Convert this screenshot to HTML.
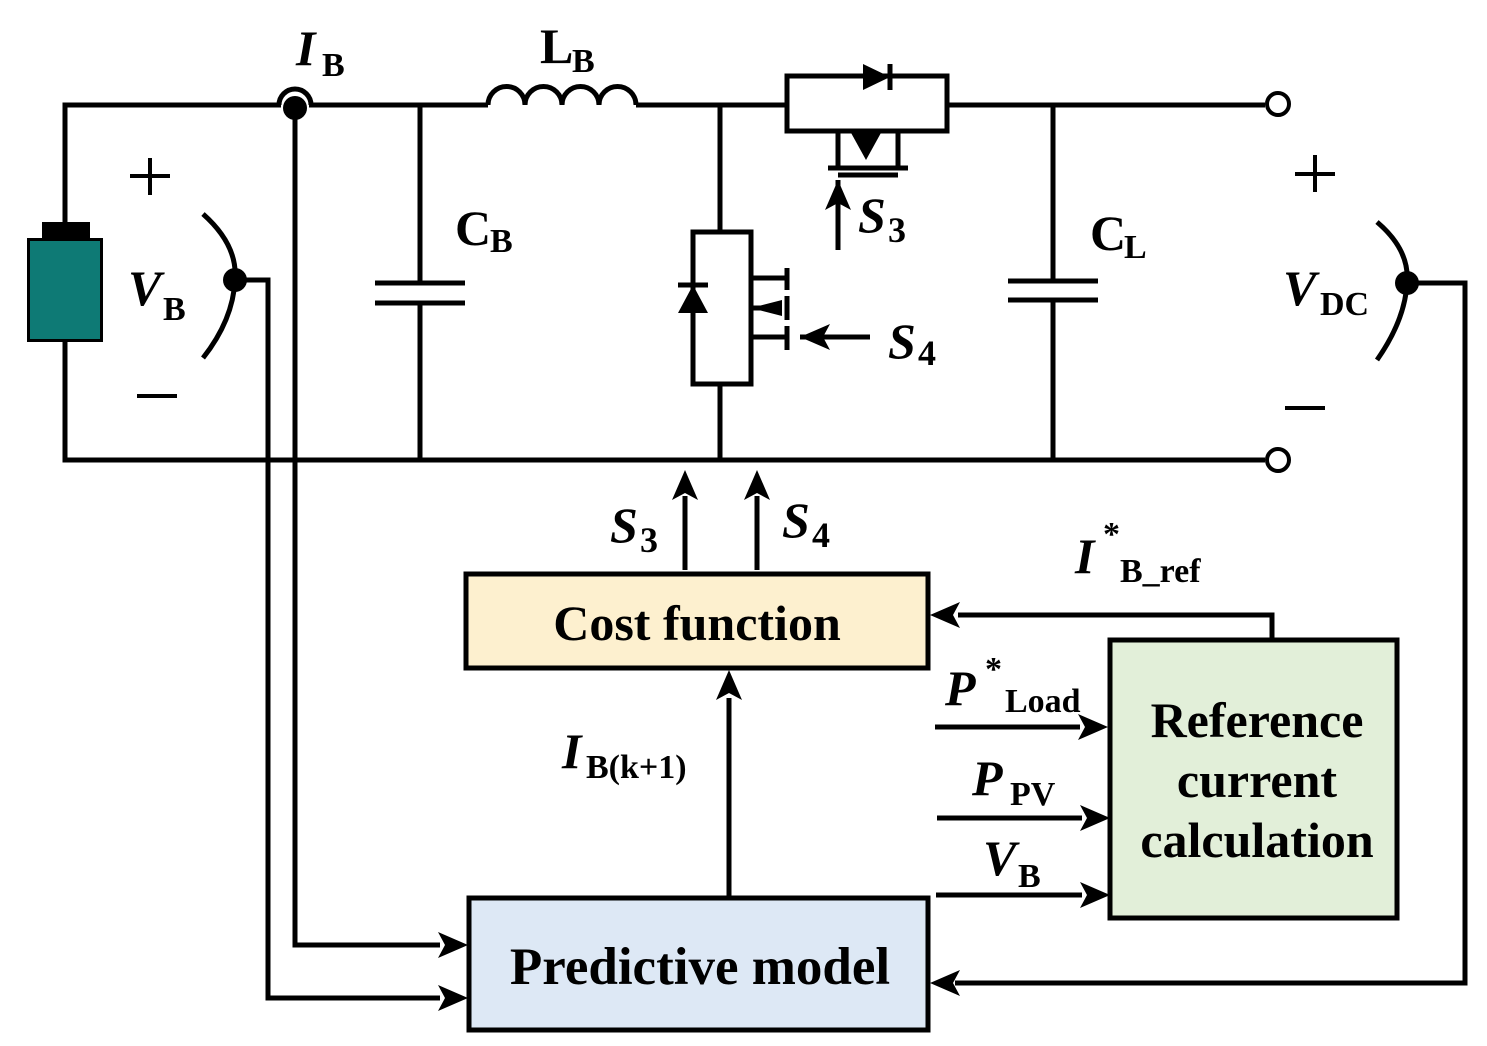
<!DOCTYPE html>
<html><head><style>html,body{margin:0;padding:0;background:#fff}svg{display:block}</style></head>
<body>
<svg width="1487" height="1046" viewBox="0 0 1487 1046" xmlns="http://www.w3.org/2000/svg" font-family="Liberation Serif, serif" font-weight="bold">
<defs>
<marker id="b" markerWidth="30" markerHeight="26" refX="30" refY="13" orient="auto" markerUnits="userSpaceOnUse"><path d="M0,0 L30,13 L0,26 L7,13 z" fill="#000"/></marker></defs>
<g stroke="#000" stroke-width="5" fill="none">
<path d="M65,238 V105 H281"/>
<path d="M279,105 A16,16 0 0 1 311,105"/>
<path d="M309,105 H488"/>
<path d="M488,105 a18,18 0 0 1 37,0 a18,18 0 0 1 37,0 a18,18 0 0 1 37,0 a18,18 0 0 1 37,0"/>
<path d="M636,105 H787"/>
<path d="M947,105 H1265"/>
<path d="M65,342 V460 H1265"/>
<path d="M420,105 V283 M375,283 H465 M375,303 H465 M420,303 V460"/>
<path d="M1053,105 V281 M1008,281 H1098 M1008,300 H1098 M1053,300 V460"/>
<path d="M720,105 V232 M720,384 V460"/>
<rect x="693" y="232" width="58" height="152"/>
<path d="M751,278 H787 M751,308 H780 M751,337 H787 M787,268 V290 M787,296 V320 M787,326 V350"/>
<path d="M870,337 H800" marker-end="url(#b)"/>
<path d="M678,285 H708"/>
<rect x="787" y="76" width="160" height="55"/>
<path d="M838,131 V168 M898,131 V168 M828,168 H908 M838,175 H898"/>
<path d="M838,250 V180" marker-end="url(#b)"/>
<path d="M890,64 V90"/>
<path d="M203,214 Q238,245 235,280 Q233,320 203,358"/>
<path d="M235,280 H268 V998 H440" />
<path d="M295,108 V945 H440"/>
<path d="M1377,222 Q1410,250 1407,283 Q1405,320 1377,360"/>
<path d="M1407,283 H1465 V983 H955"/>
<rect x="466" y="574" width="462" height="94" fill="#fdf0cf"/>
<rect x="469" y="898" width="459" height="132" fill="#dde8f5"/>
<rect x="1110" y="640" width="287" height="278" fill="#e2efd9"/>
<path d="M685,570 V496 M757,570 V496 M729,898 V698 M1272,640 V615 H958"/>
<path d="M935,727 H1080 M937,818 H1082 M936,895 H1082"/>
</g>
<g fill="#000">
<circle cx="295" cy="108" r="12"/><circle cx="235" cy="280" r="12"/><circle cx="1407" cy="283" r="12"/>
<rect x="27" y="238" width="76" height="104"/><rect x="42" y="222" width="48" height="18"/>
<path d="M863,64 L890,77 L863,90 z"/>
<path d="M678,313 L693,285 L708,313 z"/>
<path d="M751,308 L782,300 L782,316 z"/>
<path d="M850,131 H882 L866,160 z"/>
<path d="M438,932 L468,945 L438,958 L445,945 z"/><path d="M438,985 L468,998 L438,1011 L445,998 z"/>
<path d="M960,970 L930,983 L960,996 L953,983 z"/>
<path d="M960,602 L930,615 L960,628 L953,615 z"/>
<path d="M1078,714 L1108,727 L1078,740 L1085,727 z"/>
<path d="M1080,805 L1110,818 L1080,831 L1087,818 z"/>
<path d="M1080,882 L1110,895 L1080,908 L1087,895 z"/>
<path d="M672,500 L685,470 L698,500 L685,493 z"/><path d="M744,500 L757,470 L770,500 L757,493 z"/>
<path d="M716,700 L729,670 L742,700 L729,693 z"/>
</g>
<rect x="30" y="241" width="70" height="98" fill="#0e7a75"/>
<g fill="#fff" stroke="#000" stroke-width="4"><circle cx="1278" cy="104" r="11"/><circle cx="1278" cy="460" r="11"/></g>
<g fill="#000" font-size="50">
<text x="296" y="65" font-style="italic">I</text><text x="322" y="76" font-size="34">B</text>
<text x="540" y="63">L</text><text x="572" y="72" font-size="34">B</text>
<text x="455" y="245">C</text><text x="490" y="252" font-size="34">B</text>
<text x="1090" y="250">C</text><text x="1124" y="258" font-size="34">L</text>
<text x="128" y="305" font-style="italic">V</text><text x="163" y="320" font-size="34">B</text>
<text x="1283" y="305" font-style="italic">V</text><text x="1320" y="315" font-size="34">DC</text>
<text x="858" y="232" font-style="italic">S</text><text x="888" y="242" font-size="36">3</text>
<text x="888" y="358" font-style="italic">S</text><text x="918" y="365" font-size="36">4</text>
<text x="610" y="542" font-style="italic">S</text><text x="640" y="552" font-size="36">3</text>
<text x="782" y="537" font-style="italic">S</text><text x="812" y="547" font-size="36">4</text>
<text x="1075" y="573" font-style="italic">I</text><text x="1103" y="545" font-size="34">*</text><text x="1120" y="582" font-size="34">B_ref</text>
<text x="945" y="705" font-style="italic">P</text><text x="985" y="680" font-size="34">*</text><text x="1005" y="712" font-size="34">Load</text>
<text x="972" y="795" font-style="italic">P</text><text x="1010" y="805" font-size="34">PV</text>
<text x="983" y="875" font-style="italic">V</text><text x="1018" y="887" font-size="34">B</text>
<text x="562" y="768" font-style="italic">I</text><text x="586" y="778" font-size="34">B(k+1)</text>
<text x="697" y="640" text-anchor="middle" font-size="50">Cost function</text>
<text x="700" y="984" text-anchor="middle" font-size="53">Predictive model</text>
<text x="1257" y="737" text-anchor="middle" font-size="50">Reference</text>
<text x="1257" y="797" text-anchor="middle" font-size="50">current</text>
<text x="1257" y="857" text-anchor="middle" font-size="50">calculation</text>
</g>
<g stroke="#000" stroke-width="4">
<path d="M130,176 H170 M150,158 V195 M137,396 H177 M1295,174 H1335 M1315,155 V192 M1285,408 H1325"/>
</g>
</svg>
</body></html>
